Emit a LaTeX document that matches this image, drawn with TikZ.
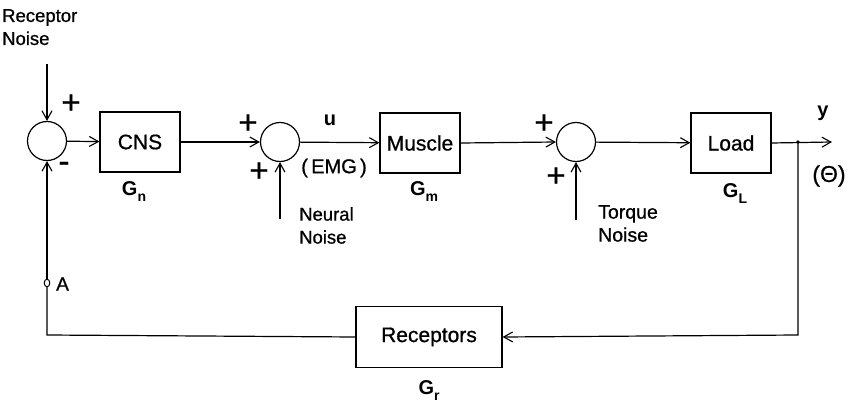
\documentclass[tikz,border=0pt]{standalone}
\usepackage{fontspec}
\setmainfont{Liberation Sans}
\newfontfamily\hv[FakeBold=0.8]{Liberation Sans}
\usetikzlibrary{arrows.meta}
\begin{document}
\begin{tikzpicture}[x=1pt,y=-1pt,
  blk/.style={draw,line width=1.2pt,minimum width=80pt,minimum height=60pt,inner sep=0pt,font=\hv\fontsize{21}{21}\selectfont},
  sumnode/.style={draw,circle,line width=1.2pt,minimum size=39pt,inner sep=0pt},
  lbl/.style={align=left,font=\hv\fontsize{18.5}{23}\selectfont,inner sep=0pt},
  sgn/.style={font=\hv\fontsize{33}{33}\selectfont,inner sep=0pt},
  gain/.style={font=\fontsize{20}{20}\selectfont\bfseries,inner sep=0pt},
  conn/.style={line width=1.2pt},
  arr/.style={conn,-{Straight Barb[length=9pt,width=10pt,line width=1.1pt]}}]
\useasboundingbox (0,0) rectangle (851,409);
% summing junctions
\node[sumnode] (s1) at (47,141) {};
\node[sumnode] (s2) at (280,142) {};
\node[sumnode] (s3) at (576,142) {};
% blocks
\node[blk] (cns) at (140,142) {CNS};
\node[blk] (mus) at (420,143) {Muscle};
\node[blk] (load) at (731,143) {Load};
\node[blk,minimum width=146pt,minimum height=61pt] (rec) at (429,337) {Receptors};
% gains
\node[gain] (gn) at (134,192) {G\raisebox{-6pt}{\fontsize{14}{14}\selectfont n}};
\node[gain] (gm) at (424,192) {G\raisebox{-6pt}{\fontsize{14}{14}\selectfont m}};
\node[gain] (gl) at (735,194) {G\raisebox{-6pt}{\fontsize{14}{14}\selectfont L}};
\node[gain] (gr) at (429,391) {G\raisebox{-6pt}{\fontsize{14}{14}\selectfont r}};
% texts
\node[lbl,anchor=north west] (rn) at (2,9) {Receptor\\Noise};
\node[lbl,anchor=north west] (nn) at (299,207) {Neural\\Noise};
\node[lbl,anchor=north west,font=\hv\fontsize{19.5}{23}\selectfont] (tn) at (598,205) {Torque\\Noise};
\node[gain] (u) at (330,120) {u};
\node[gain] (y) at (823,113) {y};
\node[font=\hv\fontsize{20}{20}\selectfont,inner sep=0pt] (emg) at (334,168) {(\,EMG\,)};
\node[font=\hv\fontsize{23}{23}\selectfont,inner sep=0pt] (th) at (829,176) {(Θ)};
% signs
\node[sgn] (p1) at (71,104) {+};
\node[sgn] (m1) at (64,167) {-};
\node[sgn] (p2) at (248,124) {+};
\node[sgn] (p3) at (259,172) {+};
\node[sgn] (p4) at (544,124) {+};
\node[sgn] (p5) at (556,177) {+};
% input coordinates
\coordinate (rnin) at (47,64);
\coordinate (nnin) at (280,219);
\coordinate (tnin) at (576,220);
\coordinate (jn) at (798,142);
\coordinate (out) at (832,142);
\coordinate (br) at (798,335);
\coordinate (bl) at (47,335);
\coordinate (apt) at (47,283);
% connectors
\draw[arr] (rnin) -- (s1.north);
\draw[arr] (s1) -- (cns);
\draw[arr] (cns.east) -- (s2.west);
\draw[arr] (nnin) -- (s2.south);
\draw[arr] (s2) -- (mus);
\draw[arr] (mus.east) -- (s3.west);
\draw[arr] (tnin) -- (s3.south);
\draw[arr] (s3) -- (load);
\draw[arr] (load.east) -- (out);
\fill (jn) circle (1.8pt);
\draw[arr] (jn) -- (br) -- (rec.east);
\draw[conn] (rec.west) -- (bl) -- (apt);
\draw[arr] (apt) -- (s1.south);
\draw[line width=1pt,fill=white] (apt) ellipse (2.8pt and 3.8pt);
\node[font=\hv\fontsize{19}{19}\selectfont,inner sep=0pt,anchor=west] (a) at (56,284) {A};
\end{tikzpicture}
\end{document}
